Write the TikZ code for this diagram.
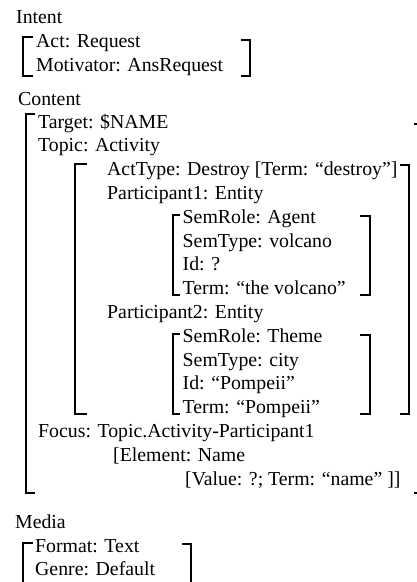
\documentclass[tikz,border=0pt]{standalone}
\usepackage{fontspec}
\setmainfont{Liberation Serif}
\newcommand{\fsz}{\fontsize{19.8}{23.5}\selectfont}
\begin{document}
\begin{tikzpicture}[x=1pt,y=-1pt,
  txt/.style={anchor=base west, inner sep=0pt, font=\fsz},
  brk/.style={line width=1.7pt, line cap=butt, line join=miter}]
\useasboundingbox (0,0) rectangle (417,582);
\clip (0,0) rectangle (417,582);
% Intent
\node[txt] (intent) at (16,23) {Intent};
\node[txt] (act) at (36,47) {Act: Request};
\node[txt] (motiv) at (36,71) {Motivator: AnsRequest};
\draw[brk] (33,37) -- (23,37) -- (23,76) -- (33,76);
\draw[brk] (241,40) -- (250,40) -- (250,76) -- (241,76);
% Content
\node[txt] (content) at (18,105) {Content};
\node[txt] (target) at (38,128) {Target: \$NAME};
\node[txt] (topic) at (38,151.8) {Topic: Activity};
\node[txt] (acttype) at (107,175.6) {ActType: Destroy [Term: “destroy”]};
\node[txt] (p1) at (107,199.4) {Participant1: Entity};
\node[txt] (sr1) at (182.5,223.2) {SemRole: Agent};
\node[txt] (st1) at (182.5,247) {SemType: volcano};
\node[txt] (id1) at (182.5,270.8) {Id: ?};
\node[txt] (tm1) at (182.5,294.6) {Term: “the volcano”};
\node[txt] (p2) at (107,318.4) {Participant2: Entity};
\node[txt] (sr2) at (182.5,342.2) {SemRole: Theme};
\node[txt] (st2) at (182.5,366) {SemType: city};
\node[txt] (id2) at (182.5,389.8) {Id: “Pompeii”};
\node[txt] (tm2) at (182.5,413.6) {Term: “Pompeii”};
\node[txt] (focus) at (38,437.4) {Focus: Topic.Activity-Participant1};
\node[txt] (elem) at (113,461.2) {[Element: Name};
\node[txt] (val) at (185,485) {[Value: ?; Term: “name” ]]};
% content brackets
\draw[brk] (35,114) -- (26,114) -- (26,493) -- (35,493);
\draw[brk] (414,124) -- (421,124) -- (421,493) -- (414,493);
% topic brackets
\draw[brk] (87,164) -- (75,164) -- (75,414) -- (87,414);
\draw[brk] (400,165) -- (409,165) -- (409,414) -- (400,414);
% participant1 brackets
\draw[brk] (180,215) -- (173,215) -- (173,295) -- (180,295);
\draw[brk] (360,216) -- (370,216) -- (370,295) -- (360,295);
% participant2 brackets
\draw[brk] (180,334) -- (173,334) -- (173,414) -- (180,414);
\draw[brk] (360,335) -- (370,335) -- (370,414) -- (360,414);
% Media
\node[txt] (media) at (15,528) {Media};
\node[txt] (format) at (35,552) {Format: Text};
\node[txt] (genre) at (35,575) {Genre: Default};
\draw[brk] (33,543) -- (23,543) -- (23,600);
\draw[brk] (182,544) -- (191,544) -- (191,600);
\end{tikzpicture}
\end{document}
